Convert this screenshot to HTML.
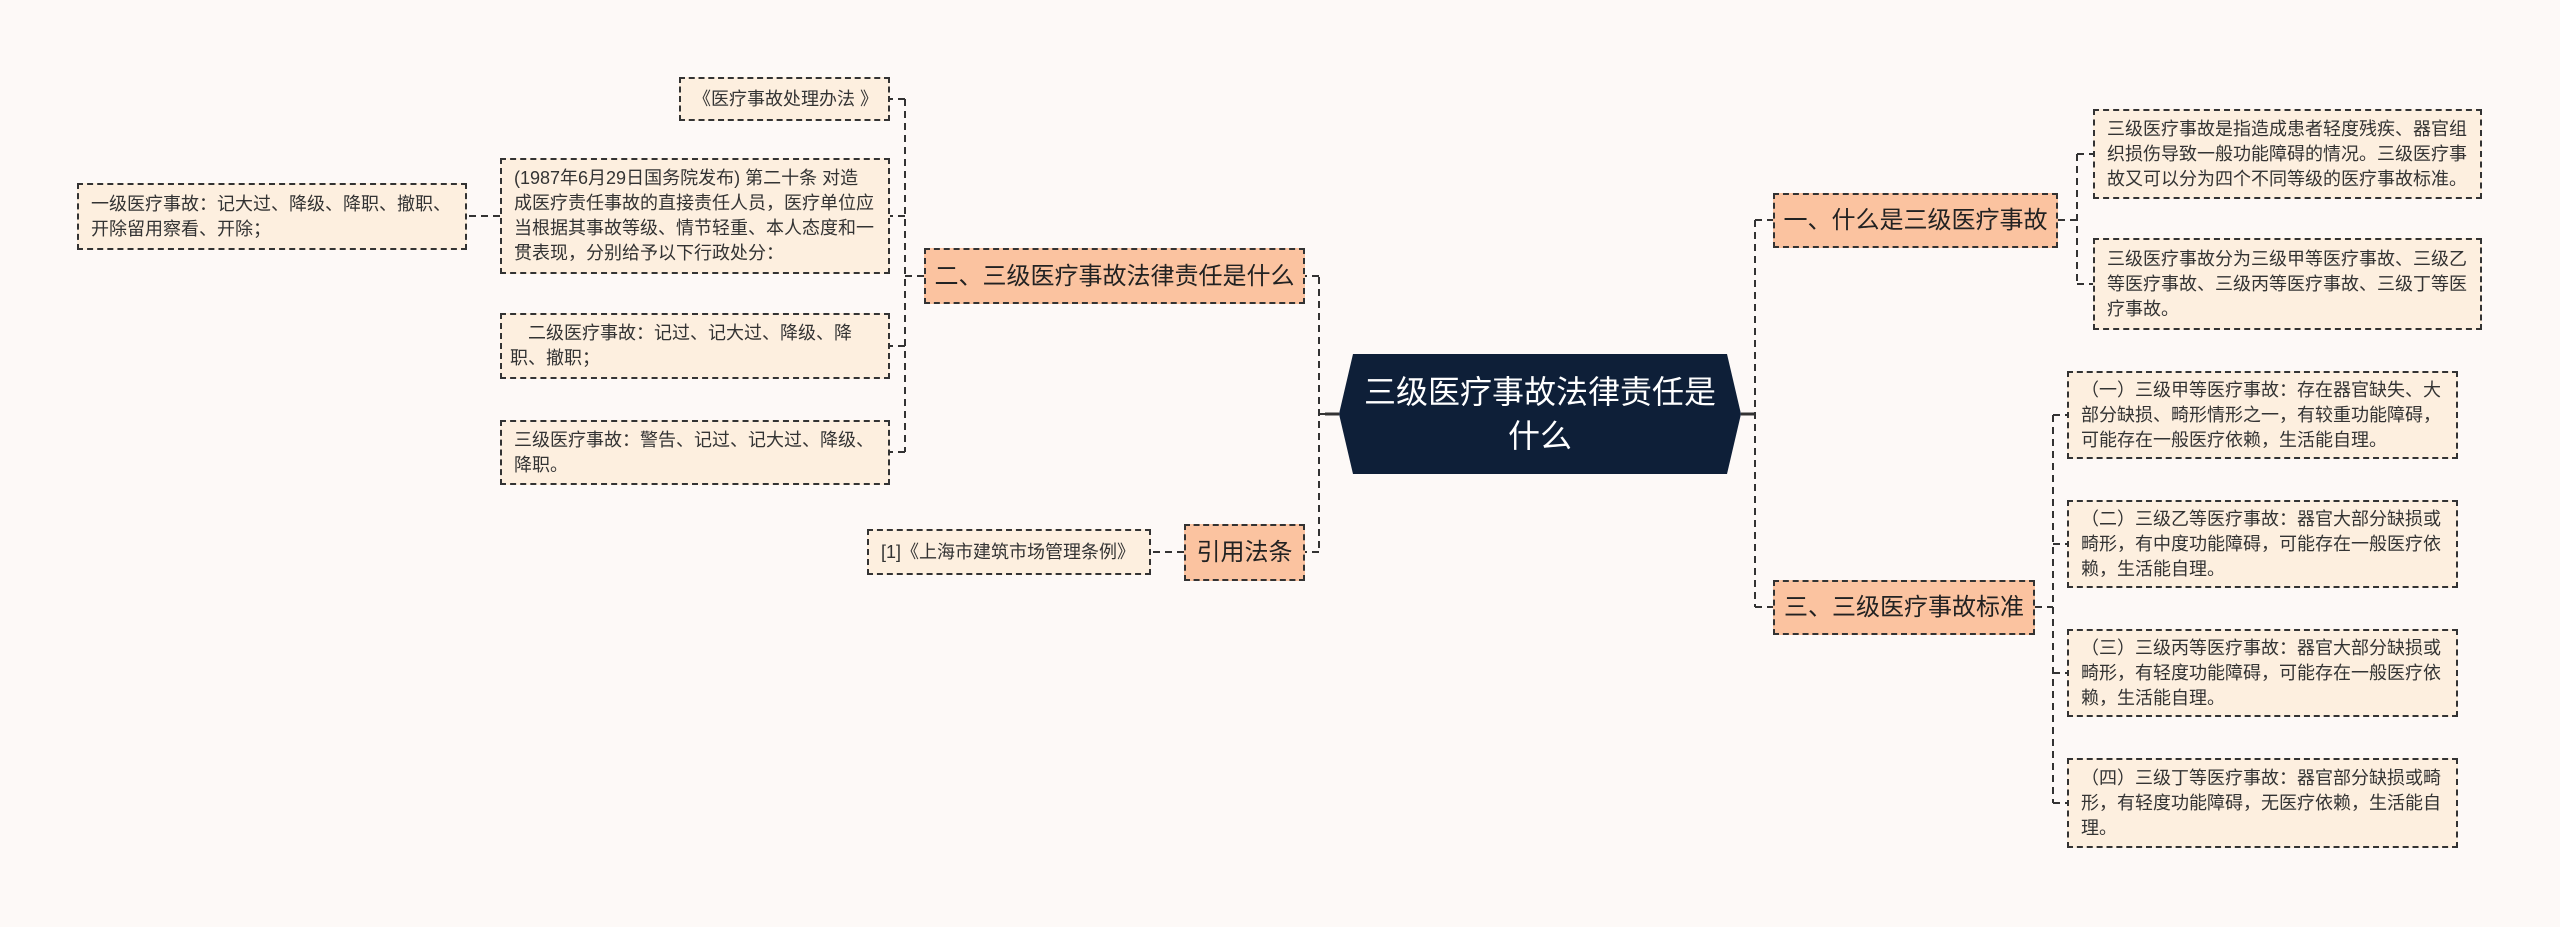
<!DOCTYPE html>
<html><head><meta charset="utf-8"><style>
body{margin:0;width:2560px;height:927px;background:#fdf9f7;position:relative;overflow:hidden;font-family:"Liberation Sans","Noto Sans CJK SC",sans-serif;}
.b{position:absolute;box-sizing:border-box;border:2px dashed #333;background:#fdefdf;color:#333;font-size:18px;line-height:25px;padding:0 12px;display:flex;align-items:center;}
.br{background:#fbc3a0;font-size:24px;justify-content:center;color:#222;white-space:nowrap;padding:0 4px;}
.c{position:absolute;left:1339px;top:354px;width:402px;height:120px;background:#0e1f38;color:#fff;font-size:32px;line-height:44px;text-align:center;display:flex;align-items:center;justify-content:center;clip-path:polygon(14px 0,388px 0,402px 50%,388px 100%,14px 100%,0 50%);padding:0 18px;box-sizing:border-box;}
svg{position:absolute;left:0;top:0}
</style></head><body>
<svg width="2560" height="927"><g stroke="#333" stroke-width="2" fill="none" stroke-dasharray="7,5">
<path d="M1339 414H1319M1319 277V552M1319 276H1305M1319 552H1305"/>
<path d="M1741 414H1755M1755 220V607M1755 220H1773M1755 607H1773"/>
<path d="M924 276H905M905 99V452M905 99H890M905 216H890M905 346H890M905 452H890"/>
<path d="M500 216H467M1184 552H1151"/>
<path d="M2058 220H2077M2077 154V284M2077 154H2093M2077 284H2093"/>
<path d="M2035 607H2053M2053 415V803M2053 415H2067M2053 544H2067M2053 673H2067M2053 803H2067"/>
</g><path d="M1339 414H1325M1741 414H1755" stroke="#333" stroke-width="3"/></svg>
<div class="c">三级医疗事故法律责任是什么</div>
<div class="b br" style="left:924px;top:248px;width:381px;height:56px">二、三级医疗事故法律责任是什么</div>
<div class="b br" style="left:1184px;top:524px;width:121px;height:57px">引用法条</div>
<div class="b" style="left:867px;top:529px;width:284px;height:46px">[1]《上海市建筑市场管理条例》</div>
<div class="b" style="left:679px;top:77px;width:211px;height:44px">《医疗事故处理办法 》</div>
<div class="b" style="left:500px;top:158px;width:390px;height:116px">(1987年6月29日国务院发布) 第二十条 对造成医疗责任事故的直接责任人员，医疗单位应当根据其事故等级、情节轻重、本人态度和一贯表现，分别给予以下行政处分：</div>
<div class="b" style="left:500px;top:313px;width:390px;height:66px;padding:0 4px 0 8px">　二级医疗事故：记过、记大过、降级、降职、撤职；</div>
<div class="b" style="left:500px;top:420px;width:390px;height:65px">三级医疗事故：警告、记过、记大过、降级、降职。</div>
<div class="b" style="left:77px;top:183px;width:390px;height:67px">一级医疗事故：记大过、降级、降职、撤职、开除留用察看、开除；</div>
<div class="b br" style="left:1773px;top:193px;width:285px;height:55px">一、什么是三级医疗事故</div>
<div class="b br" style="left:1773px;top:580px;width:262px;height:55px">三、三级医疗事故标准</div>
<div class="b" style="left:2093px;top:109px;width:389px;height:90px">三级医疗事故是指造成患者轻度残疾、器官组织损伤导致一般功能障碍的情况。三级医疗事故又可以分为四个不同等级的医疗事故标准。</div>
<div class="b" style="left:2093px;top:238px;width:389px;height:92px">三级医疗事故分为三级甲等医疗事故、三级乙等医疗事故、三级丙等医疗事故、三级丁等医疗事故。</div>
<div class="b" style="left:2067px;top:371px;width:391px;height:88px">（一）三级甲等医疗事故：存在器官缺失、大部分缺损、畸形情形之一，有较重功能障碍，可能存在一般医疗依赖，生活能自理。</div>
<div class="b" style="left:2067px;top:500px;width:391px;height:88px">（二）三级乙等医疗事故：器官大部分缺损或畸形，有中度功能障碍，可能存在一般医疗依赖，生活能自理。</div>
<div class="b" style="left:2067px;top:629px;width:391px;height:88px">（三）三级丙等医疗事故：器官大部分缺损或畸形，有轻度功能障碍，可能存在一般医疗依赖，生活能自理。</div>
<div class="b" style="left:2067px;top:758px;width:391px;height:90px">（四）三级丁等医疗事故：器官部分缺损或畸形，有轻度功能障碍，无医疗依赖，生活能自理。</div>
</body></html>
